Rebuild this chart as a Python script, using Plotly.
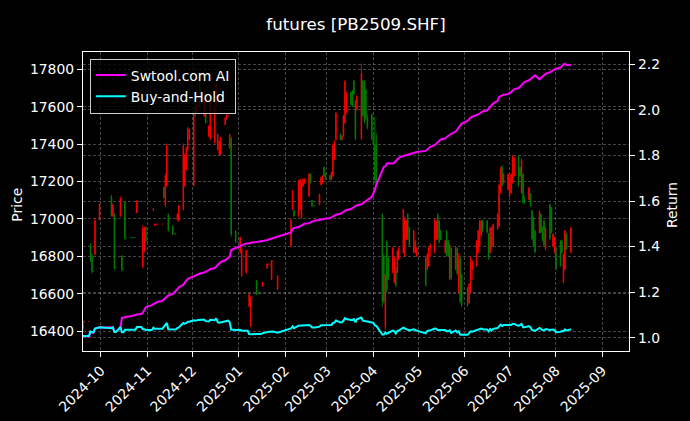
import plotly.graph_objects as go

# ---------------- data ----------------
MONTH_DAYS = [
    ("2024-09", [19, 20, 23, 24, 25, 26, 27, 30]),
    ("2024-10", [8, 9, 10, 11, 14, 15, 16, 17, 18, 21, 22, 23, 24, 25, 28, 29, 30, 31]),
    ("2024-11", [1, 4, 5, 6, 7, 8, 11, 12, 13, 14, 15, 18, 19, 20, 21, 22, 25, 26, 27, 28, 29]),
    ("2024-12", [2, 3, 4, 5, 6, 9, 10, 11, 12, 13, 16, 17, 18, 19, 20, 23, 24, 25, 26, 27, 30, 31]),
    ("2025-01", [2, 3, 6, 7, 8, 9, 10, 13, 14, 15, 16, 17, 20, 21, 22, 23, 24, 27]),
    ("2025-02", [5, 6, 7, 10, 11, 12, 13, 14, 17, 18, 19, 20, 21, 24, 25, 26, 27, 28]),
    ("2025-03", [3, 4, 5, 6, 7, 10, 11, 12, 13, 14, 17, 18, 19, 20, 21, 24, 25, 26, 27, 28, 31]),
    ("2025-04", [1, 2, 3, 7, 8, 9, 10, 11, 14, 15, 16, 17, 18, 21, 22, 23, 24, 25, 28, 29, 30]),
    ("2025-05", [6, 7, 8, 9, 12, 13, 14, 15, 16, 19, 20, 21, 22, 23, 26, 27, 28, 29, 30]),
    ("2025-06", [3, 4, 5, 6, 9, 10, 11, 12, 13, 16, 17, 18, 19, 20, 23, 24, 25, 26, 27, 30]),
    ("2025-07", [1, 2, 3, 4, 7, 8, 9, 10, 11, 14, 15, 16, 17, 18, 21, 22, 23, 24, 25, 28, 29, 30, 31]),
    ("2025-08", [1, 4, 5, 6, 7, 8, 11]),
]
DATES = [f"{m}-{d:02d}" for m, days in MONTH_DAYS for d in days]

OPEN = [
    16410, 16450, 16450, 16860, 16800, 16720, 16810, 16995,
    17120, 17015, 17025, 16740, 17015, 16800, 16730, 17090, 16900, 16900, 16900, 16900, 16900, 17035, 17095, 16745, 16830, 16955,
    16880, 16880, 17045, 16965, 16972, 16972, 16972, 17170, 17070, 17180, 17025, 16960, 16920, 16920, 16995, 16990, 17050, 17180, 17265, 17370, 17425,
    17180, 17650, 17575, 17610, 17760, 17550, 17680, 17520, 17442, 17430, 17410, 17605, 17370, 17345, 17345, 17505, 17540, 17555, 17380, 17430, 16935, 16880,
    16820, 16695, 16712, 16830, 16532, 16425, 16580, 16670, 16600, 16600, 16600, 16638, 16736, 16758, 16758, 16675, 16775, 16622,
    16855, 17050, 17045, 17015, 17050, 17005, 17175, 17192, 17122, 17240, 17100, 17070, 17070, 17076, 17183, 17192, 17278, 17242,
    17233, 17210, 17230, 17320, 17425, 17455, 17424, 17445, 17515, 17570, 17678, 17685, 17740, 17630, 17585, 17430, 17740, 17735, 17690, 17540, 17560,
    17430, 17400, 17400, 17020, 16800, 16420, 16880, 16790, 16712, 16660, 16740, 16712, 16785, 16820, 16800, 16890, 17025, 16950, 16820, 16820, 16800,
    16790, 16730, 16748, 16845, 16820, 16890, 17025, 16990, 16938, 16820, 16935, 16880, 16680, 16845, 16730, 16840, 16610, 16790, 16700,
    16630, 16550, 16610, 16730, 16750, 16820, 16855, 16910, 16990, 16990, 16920, 16820, 16950, 16855, 16945, 16960, 17140, 17280, 17192, 17158,
    17122, 17140, 17195, 17230, 17335, 17275, 17140, 17240, 17100, 17102, 17135, 17045, 17005, 16935, 16925, 17025, 16930, 16990, 16840, 17075, 17060, 16855, 16820,
    16845, 16880, 16880, 16660, 16730, 16920, 16820,
]
HIGH = [
    16460, 16450, 16450, 16870, 16816, 16720, 17003, 17083,
    17128, 17083, 17030, 16740, 17119, 16807, 16730, 17092, 16900, 16900, 16900, 16900, 16900, 17101, 17095, 16967, 16960, 16960,
    16880, 16880, 17058, 16975, 16972, 16972, 16972, 17172, 17244, 17404, 17030, 16967, 16920, 16920, 17030, 17074, 17404, 17351, 17386, 17493, 17484,
    17600, 17660, 17618, 17610, 17770, 17645, 17690, 17520, 17502, 17636, 17600, 17740, 17458, 17422, 17440, 17547, 17560, 17555, 17458, 17440, 16940, 16880,
    16905, 16850, 16834, 16830, 16602, 16584, 16580, 16673, 16600, 16600, 16600, 16664, 16762, 16758, 16758, 16780, 16775, 16700,
    17003, 17154, 17047, 17208, 17217, 17199, 17217, 17217, 17244, 17244, 17101, 17070, 17070, 17137, 17226, 17235, 17280, 17244,
    17235, 17253, 17404, 17422, 17573, 17458, 17448, 17560, 17743, 17680, 17680, 17690, 17743, 17636, 17663, 17832, 17743, 17743, 17698, 17560, 17565,
    17450, 17547, 17458, 17030, 16816, 16709, 16887, 16798, 16851, 16798, 16744, 16834, 16851, 17056, 17012, 16994, 17030, 16958, 16941, 16887, 16851,
    16798, 16816, 16851, 16870, 17003, 16994, 17030, 16994, 16941, 16887, 16941, 16887, 16869, 16851, 16851, 16850, 16816, 16798, 16709,
    16637, 16655, 16798, 16780, 16887, 16941, 16994, 16994, 16995, 16994, 16923, 16958, 16960, 16976, 17030, 17190, 17279, 17288, 17244, 17244,
    17226, 17244, 17342, 17333, 17342, 17279, 17324, 17244, 17120, 17172, 17137, 17047, 17012, 16941, 17047, 17030, 16960, 16994, 16958, 17083, 17065, 16923, 16905,
    16851, 16887, 16887, 16816, 16941, 16923, 16958,
]
LOW = [
    16405, 16450, 16450, 16770, 16709, 16720, 16807, 16994,
    17012, 17012, 16727, 16740, 17012, 16718, 16730, 16887, 16900, 16900, 16900, 16900, 16900, 17030, 17095, 16735, 16820, 16870,
    16880, 16880, 17045, 16965, 16972, 16972, 16972, 17110, 17065, 17172, 16932, 16914, 16920, 16920, 16994, 16985, 17047, 17172, 17261, 17368, 17422,
    17172, 17547, 17573, 17610, 17582, 17547, 17511, 17520, 17440, 17422, 17404, 17600, 17368, 17342, 17342, 17502, 17530, 17555, 17377, 16905, 16870, 16880,
    16816, 16691, 16709, 16830, 16530, 16423, 16580, 16593, 16600, 16600, 16600, 16637, 16735, 16758, 16758, 16673, 16775, 16620,
    16851, 17047, 17012, 17012, 17047, 17003, 17172, 17190, 17119, 17190, 17065, 17070, 17070, 17074, 17181, 17190, 17226, 17208,
    17208, 17208, 17226, 17315, 17422, 17422, 17422, 17440, 17511, 17565, 17609, 17600, 17663, 17422, 17582, 17422, 17547, 17511, 17529, 17480, 17422,
    17390, 17190, 17172, 16530, 16548, 16406, 16602, 16673, 16709, 16655, 16637, 16709, 16780, 16816, 16798, 16887, 16887, 16851, 16816, 16816, 16798,
    16637, 16727, 16744, 16800, 16816, 16887, 16887, 16869, 16887, 16816, 16798, 16798, 16673, 16673, 16727, 16700, 16602, 16548, 16530,
    16530, 16548, 16602, 16673, 16744, 16816, 16851, 16905, 16930, 16923, 16780, 16816, 16840, 16851, 16941, 16958, 17137, 17172, 17190, 17154,
    17119, 17137, 17190, 17226, 17172, 17226, 17137, 17083, 17080, 17101, 17065, 16887, 16851, 16816, 16923, 16923, 16880, 16851, 16834, 16887, 16923, 16851, 16816,
    16727, 16744, 16816, 16655, 16727, 16834, 16816,
]
CLOSE = [
    16450, 16450, 16450, 16780, 16720, 16720, 16990, 17078,
    17020, 17075, 16740, 16740, 17110, 16730, 16730, 16900, 16900, 16900, 16900, 16900, 16900, 17095, 17095, 16950, 16950, 16880,
    16880, 16880, 17055, 16972, 16972, 16972, 16972, 17115, 17230, 17390, 16940, 16920, 16920, 16920, 17025, 17070, 17390, 17340, 17380, 17485, 17480,
    17590, 17560, 17610, 17610, 17600, 17640, 17520, 17520, 17495, 17620, 17590, 17730, 17450, 17415, 17435, 17540, 17555, 17555, 17450, 16920, 16880, 16880,
    16900, 16840, 16830, 16830, 16598, 16580, 16580, 16600, 16600, 16600, 16600, 16660, 16758, 16758, 16758, 16775, 16775, 16695,
    16995, 17150, 17015, 17200, 17210, 17190, 17212, 17215, 17240, 17195, 17070, 17070, 17070, 17130, 17222, 17230, 17230, 17212,
    17210, 17250, 17395, 17415, 17565, 17425, 17445, 17550, 17735, 17670, 17612, 17610, 17670, 17430, 17655, 17780, 17555, 17520, 17540, 17490, 17430,
    17400, 17210, 17180, 16560, 16560, 16700, 16620, 16680, 16845, 16790, 16645, 16828, 16845, 17050, 17000, 16990, 16895, 16860, 16935, 16880, 16845,
    16645, 16810, 16845, 16860, 16995, 16985, 16895, 16875, 16890, 16880, 16805, 16805, 16860, 16685, 16845, 16710, 16790, 16560, 16540,
    16540, 16650, 16790, 16770, 16880, 16935, 16985, 16990, 16940, 16930, 16790, 16950, 16850, 16970, 17025, 17180, 17270, 17180, 17240, 17238,
    17220, 17238, 17335, 17325, 17180, 17230, 17315, 17090, 17090, 17165, 17070, 16895, 16860, 16825, 17040, 16930, 16890, 16860, 16950, 16895, 16930, 16918, 16900,
    16735, 16752, 16822, 16810, 16935, 16840, 16950,
]
STRATEGY = [
    1.007, 1.006, 1.006, 1.027, 1.022, 1.022, 1.040, 1.045,
    1.043, 1.046, 1.028, 1.028, 1.040, 1.088, 1.088, 1.090, 1.092, 1.094, 1.096, 1.098, 1.100, 1.102, 1.104, 1.110, 1.122, 1.134,
    1.138, 1.142, 1.148, 1.152, 1.155, 1.158, 1.162, 1.168, 1.172, 1.178, 1.186, 1.192, 1.198, 1.205, 1.212, 1.222, 1.232, 1.242, 1.252, 1.258, 1.262,
    1.268, 1.272, 1.276, 1.279, 1.282, 1.286, 1.290, 1.293, 1.297, 1.301, 1.306, 1.312, 1.318, 1.325, 1.332, 1.340, 1.346, 1.350, 1.356, 1.385, 1.394, 1.398,
    1.402, 1.408, 1.414, 1.414, 1.416, 1.418, 1.418, 1.420, 1.421, 1.421, 1.422, 1.425, 1.428, 1.431, 1.433, 1.435, 1.437, 1.442,
    1.462, 1.478, 1.482, 1.486, 1.490, 1.494, 1.498, 1.500, 1.503, 1.506, 1.509, 1.512, 1.515, 1.517, 1.519, 1.520, 1.522, 1.523,
    1.524, 1.528, 1.532, 1.536, 1.540, 1.544, 1.548, 1.553, 1.557, 1.561, 1.565, 1.569, 1.573, 1.578, 1.582, 1.586, 1.590, 1.594, 1.598, 1.604, 1.618,
    1.632, 1.650, 1.672, 1.735, 1.750, 1.752, 1.765, 1.766, 1.765, 1.768, 1.775, 1.782, 1.790, 1.798, 1.800, 1.802, 1.805, 1.807, 1.810, 1.812, 1.815,
    1.820, 1.826, 1.832, 1.838, 1.845, 1.852, 1.860, 1.867, 1.870, 1.875, 1.880, 1.884, 1.889, 1.895, 1.905, 1.915, 1.922, 1.933, 1.940,
    1.952, 1.962, 1.966, 1.970, 1.975, 1.980, 1.984, 1.988, 1.993, 1.998, 2.005, 2.013, 2.020, 2.028, 2.040, 2.057, 2.060, 2.063, 2.066, 2.069,
    2.072, 2.078, 2.084, 2.090, 2.096, 2.101, 2.108, 2.116, 2.122, 2.130, 2.136, 2.142, 2.148, 2.152, 2.134, 2.140, 2.146, 2.152, 2.158, 2.165, 2.170, 2.174, 2.178,
    2.180, 2.186, 2.192, 2.200, 2.202, 2.198, 2.196,
]
BH_BASE = 16330  # price level that corresponds to a buy-and-hold return of 1.0

PRICE_TICKS = [16400, 16600, 16800, 17000, 17200, 17400, 17600, 17800]
RETURN_TICKS = [1.0, 1.2, 1.4, 1.6, 1.8, 2.0, 2.2]

for name, arr in [("OPEN", OPEN), ("HIGH", HIGH), ("LOW", LOW), ("CLOSE", CLOSE), ("STRATEGY", STRATEGY)]:
    if len(arr) != len(DATES):
        raise ValueError(f"{name} has {len(arr)} values, expected {len(DATES)}")

BUY_HOLD = [c / BH_BASE for c in CLOSE]

# ---------------- figure ----------------
FONT = "DejaVu Sans"
GRID = "rgba(150,150,150,0.45)"
TEXT_SIZE = 13.9

fig = go.Figure()
fig.add_trace(go.Candlestick(
    x=DATES, open=OPEN, high=HIGH, low=LOW, close=CLOSE,
    increasing=dict(line=dict(color="#ff0000", width=0.9), fillcolor="#ff0000"),
    decreasing=dict(line=dict(color="#008000", width=0.9), fillcolor="#008000"),
    whiskerwidth=0, showlegend=False, hoverinfo="skip",
))
fig.add_trace(go.Scatter(
    x=DATES, y=STRATEGY, name="Swtool.com AI", mode="lines",
    line=dict(color="#ff00ff", width=2), yaxis="y2",
))
fig.add_trace(go.Scatter(
    x=DATES, y=BUY_HOLD, name="Buy-and-Hold", mode="lines",
    line=dict(color="#00ffff", width=2), yaxis="y2",
))

axis_common = dict(
    showline=True, linecolor="white", linewidth=1.2,
    ticks="outside", ticklen=5, tickwidth=1, tickcolor="white",
    tickfont=dict(family=FONT, size=TEXT_SIZE, color="white"),
    showgrid=True, gridcolor=GRID, gridwidth=0.7, griddash="3px,2px",
    zeroline=False,
)

PLOT_L, PLOT_R, PLOT_T, PLOT_B = 83, 629, 52, 351
W, H = 690, 421
plot_w = PLOT_R - PLOT_L
plot_h = PLOT_B - PLOT_T

fig.update_layout(
    width=W, height=H, autosize=False,
    margin=dict(l=PLOT_L, r=W - PLOT_R, t=PLOT_T, b=H - PLOT_B, autoexpand=False),
    paper_bgcolor="black", plot_bgcolor="black",
    font=dict(family=FONT, color="white", size=TEXT_SIZE),
    boxgap=0.45,
    title=dict(
        text="futures [PB2509.SHF]", x=356 / W, xanchor="center",
        y=1 - 24 / H, yanchor="middle", yref="container", xref="container",
        font=dict(family=FONT, size=16.7, color="white"),
    ),
    xaxis=dict(
        type="date", range=["2024-09-19", "2025-09-18 19:00"],
        tick0="2024-10-01", dtick="M1", tickformat="%Y-%m", tickangle=-45,
        mirror=True, rangeslider=dict(visible=False), automargin=False, **axis_common,
    ),
    yaxis=dict(
        range=[16293, 17894], tickmode="array", tickvals=PRICE_TICKS,
        ticktext=[str(v) for v in PRICE_TICKS], mirror=True, automargin=False,
        **axis_common,
    ),
    yaxis2=dict(
        overlaying="y", side="right", range=[0.942, 2.254], tickmode="array",
        tickvals=RETURN_TICKS, ticktext=[f"{v:.1f}" for v in RETURN_TICKS],
        automargin=False, **axis_common,
    ),
    legend=dict(
        x=0.0125, y=0.978, xanchor="left", yanchor="top",
        bgcolor="rgba(0,0,0,0.8)", bordercolor="#cccccc", borderwidth=1,
        font=dict(family=FONT, size=TEXT_SIZE, color="white"),
    ),
    showlegend=True,
    annotations=[
        dict(text="Price", xref="paper", yref="paper",
             x=(16.7 - PLOT_L) / plot_w, y=(PLOT_B - 205) / plot_h,
             textangle=-90, showarrow=False, xanchor="center", yanchor="middle",
             font=dict(family=FONT, size=TEXT_SIZE, color="white")),
        dict(text="Return", xref="paper", yref="paper",
             x=(672 - PLOT_L) / plot_w, y=(PLOT_B - 205) / plot_h,
             textangle=-90, showarrow=False, xanchor="center", yanchor="middle",
             font=dict(family=FONT, size=TEXT_SIZE, color="white")),
    ],
)

fig.write_html(
    "out.html",
    config={"displayModeBar": False},
    post_script="document.body.style.margin='0px';document.body.style.background='black';",
)
